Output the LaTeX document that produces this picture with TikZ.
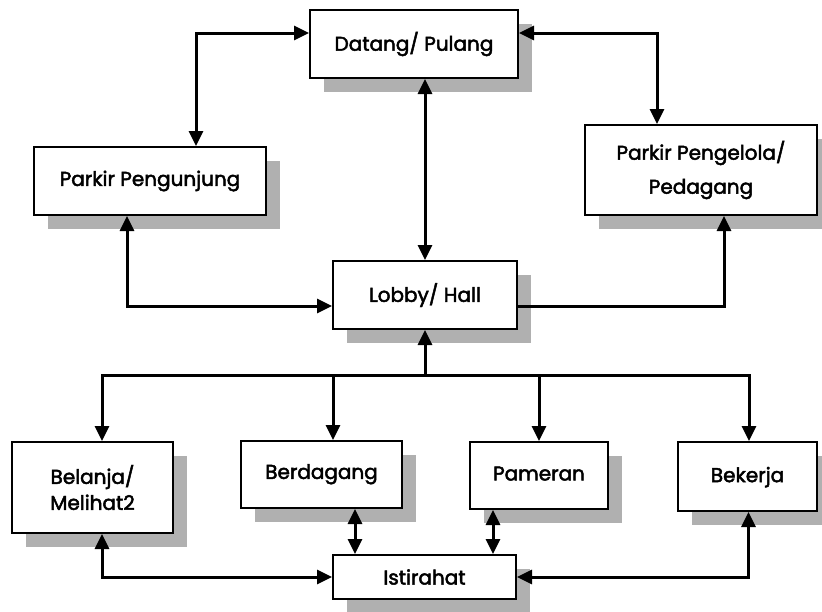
\documentclass[tikz,border=0pt]{standalone}
\usepackage{fontspec}
\setmainfont{Poppins}
\newfontfamily\boxfont[FakeBold=2.4]{Poppins}
\usetikzlibrary{arrows.meta,shadows}
\begin{document}
\begin{tikzpicture}[x=1pt,y=-1pt,
  box/.style={draw=black,line width=2pt,fill=white,align=center,
    font=\boxfont\fontsize{20}{26}\selectfont,inner sep=0pt,
    drop shadow={shadow xshift=14pt,shadow yshift=-14pt,fill=gray!62,opacity=1}},
  conn/.style={line width=3pt,{Triangle[length=15pt,width=14pt]}-{Triangle[length=15pt,width=14pt]}},
  one/.style={line width=3pt,-{Triangle[length=15pt,width=14pt]}}]
\useasboundingbox (0,0) rectangle (822,611);
\node[box,minimum width=208pt,minimum height=68pt] (datang) at (414,44) {Datang/ Pulang};
\node[box,minimum width=232pt,minimum height=68pt] (pengunjung) at (150,181) {Parkir Pengunjung};
\node[box,minimum width=232pt,minimum height=90pt,font=\boxfont\fontsize{20}{34}\selectfont] (pengelola) at (701,170) {Parkir Pengelola/\\Pedagang};
\node[box,minimum width=184pt,minimum height=68pt] (lobby) at (425,295) {Lobby/ Hall};
\node[box,minimum width=161pt,minimum height=91pt] (belanja) at (92.5,487.5) {Belanja/\\Melihat2};
\node[box,minimum width=161pt,minimum height=67pt,text depth=6pt] (berdagang) at (321.5,474.5) {Berdagang};
\node[box,minimum width=138pt,minimum height=67pt,text depth=4pt] (pameran) at (539,475.5) {Pameran};
\node[box,minimum width=139pt,minimum height=69pt,text depth=4pt] (bekerja) at (747.5,476.5) {Bekerja};
\node[box,minimum width=183pt,minimum height=44pt] (istirahat) at (424.5,577) {Istirahat};
\coordinate (bus) at (425,375);
% top
\draw[conn] ([yshift=11pt]datang.west) -| ([xshift=46pt]pengunjung.north);
\draw[conn] ([yshift=11pt]datang.east) -| ([xshift=-44pt]pengelola.north);
\draw[conn] (datang.south -| lobby.north) -- (lobby.north);
\draw[conn] ([xshift=-23pt]pengunjung.south) |- ([yshift=-11pt]lobby.west);
\draw[one] ([yshift=-11pt]lobby.east) -| ([xshift=23pt]pengelola.south);
% bus
\draw[one] (bus) -- (lobby.south);
\draw[one] (bus) -| ([xshift=9.5pt]belanja.north);
\draw[one] (bus) -| ([xshift=11.5pt]berdagang.north);
\draw[one] (bus) -| (pameran.north);
\draw[one] (bus) -| ([xshift=1.5pt]bekerja.north);
% bottom
\draw[conn] ([xshift=9.5pt]belanja.south) |- (istirahat.west);
\draw[conn] ([xshift=33.5pt]berdagang.south) -- ([xshift=33.5pt]berdagang.south |- istirahat.north);
\draw[conn] ([xshift=-46pt]pameran.south) -- ([xshift=-46pt]pameran.south |- istirahat.north);
\draw[conn] ([xshift=1pt]bekerja.south) |- (istirahat.east);
\end{tikzpicture}
\end{document}
